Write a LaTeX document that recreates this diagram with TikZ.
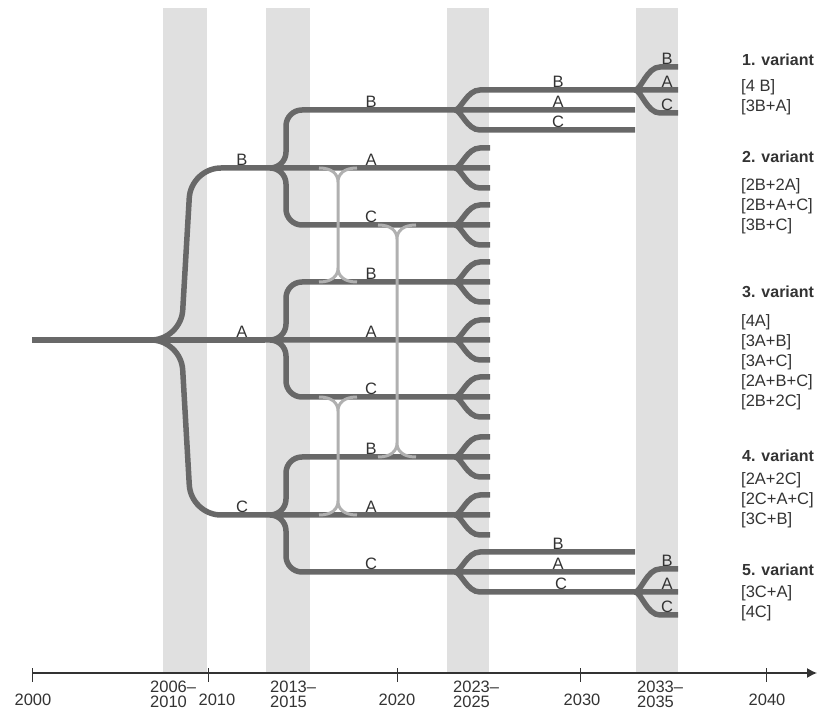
\documentclass[tikz,border=0pt]{standalone}
\usepackage{fontspec}
\setmainfont{Liberation Sans}
\usetikzlibrary{positioning,arrows.meta,calc}
\definecolor{trband}{HTML}{E0E0E0}
\definecolor{trdark}{HTML}{686868}
\definecolor{trlight}{HTML}{B0B0B0}
\definecolor{trink}{HTML}{333333}

\begin{document}
\begin{tikzpicture}[x=1pt,y=1pt,
  font=\fontsize{16.5}{20}\selectfont, text=trink,
  band/.style={fill=trband},
  tree/.style={draw=trdark,line width=5.5pt},
  link/.style={draw=trlight,line width=3pt},
  stem/.style={rounded corners=16pt,to path={-- ++(21,0) |- (\tikztotarget)}},
  fork/.style={to path={-- (\tikztotarget)
    (\tikztostart) .. controls +(6,0) and +(-13,0) .. ++(25,#1) -- ($(\tikztotarget)+(0,#1)$)
    (\tikztostart) .. controls +(6,0) and +(-13,0) .. ++(25,-#1) -- ($(\tikztotarget)+(0,-#1)$)}},
  fork/.default=20,
  brace/.style={to path={
    ($(\tikztostart)+(-19,0)$) .. controls +(13,0) and +(0,8) .. ($(\tikztostart)+(0,-14)$)
      .. controls +(0,8) and +(-13,0) .. ($(\tikztostart)+(19,0)$)
    ($(\tikztostart)+(0,-14)$) -- ($(\tikztotarget)+(0,14)$)
    ($(\tikztotarget)+(-19,0)$) .. controls +(13,0) and +(0,-8) .. ($(\tikztotarget)+(0,14)$)
      .. controls +(0,-8) and +(-13,0) .. ($(\tikztotarget)+(19,0)$)}},
  lbl/.style={anchor=south,inner sep=0pt,yshift=2.5pt},
  yr/.style={inner sep=0pt},
  yrtwo/.style={inner sep=0pt,anchor=west,align=left,font=\fontsize{16.5}{15}\selectfont},
  head/.style={anchor=west,inner sep=0pt,font=\fontsize{16}{20}\selectfont\bfseries},
  combo/.style={anchor=west,inner sep=0pt,align=left},
  axis/.style={draw=trink,line width=1.2pt},
  tick/.style={draw=trink,line width=1pt}]

  \useasboundingbox (0,0) rectangle (817,710);

  \fill[band] (163,37) rectangle (207,702);
  \fill[band] (266,37) rectangle (310,702);
  \fill[band] (447,37) rectangle (489,702);
  \fill[band] (636,37) rectangle (678,702);

  \coordinate (t2000) at (32,37);
  \coordinate (t2010) at (208,37);
  \coordinate (t2020) at (397,37);
  \coordinate (t2030) at (580,37);
  \coordinate (t2040) at (766,37);
  \coordinate (tend) at (817,37);
  \draw[axis,-{Latex[length=10pt,width=10pt]}] (t2000) -- (tend);
  \draw[tick] ([yshift=5pt]t2000) -- ([yshift=-9pt]t2000);
  \draw[tick] ([yshift=5pt]t2010) -- ([yshift=-9pt]t2010);
  \draw[tick] ([yshift=5pt]t2020) -- ([yshift=-9pt]t2020);
  \draw[tick] ([yshift=5pt]t2030) -- ([yshift=-9pt]t2030);
  \draw[tick] ([yshift=5pt]t2040) -- ([yshift=-9pt]t2040);

  \node[yr] (y2000) at (33,10) {2000};
  \node[yr] (y2010) at (217,10) {2010};
  \node[yr] (y2020) at (397,10) {2020};
  \node[yr] (y2030) at (582,10) {2030};
  \node[yr] (y2040) at (767,10) {2040};
  \node[yrtwo] (p2006) at (150,15.5) {2006--\\2010};
  \node[yrtwo] (p2013) at (270,15.5) {2013--\\2015};
  \node[yrtwo] (p2023) at (453,15.5) {2023--\\2025};
  \node[yrtwo] (p2033) at (637,15.5) {2033--\\2035};

  \coordinate (root) at (32,370);
  \coordinate (split) at (125,370);
  \coordinate (sb1) at (265,542);
  \coordinate (sa1) at (265,370);
  \coordinate (sc1) at (265,195);
  \coordinate (bb2) at (455,600);
  \coordinate (ba2) at (455,542);
  \coordinate (bc2) at (455,485);
  \coordinate (ab2) at (455,428);
  \coordinate (aa2) at (455,370);
  \coordinate (ac2) at (455,313);
  \coordinate (cb2) at (455,253);
  \coordinate (ca2) at (455,195);
  \coordinate (cc2) at (455,138);
  \coordinate (bb3) at (635,600);
  \coordinate (ba3) at (490,542);
  \coordinate (bc3) at (490,485);
  \coordinate (ab3) at (490,428);
  \coordinate (aa3) at (490,370);
  \coordinate (ac3) at (490,313);
  \coordinate (cb3) at (490,253);
  \coordinate (ca3) at (490,195);
  \coordinate (cc3) at (635,138);
  \coordinate (bbb3) at (635,620);
  \coordinate (bbb4) at (678,620);
  \coordinate (ccc3) at (635,118);
  \coordinate (ccc4) at (678,118);

  \draw[tree] (root) -- (sa1);
  \draw[tree,rounded corners=30pt] (split) -- (181,370) -- (191,542) -- (sb1);
  \draw[tree,rounded corners=30pt] (split) -- (181,370) -- (191,195) -- (sc1);
  \draw[tree] (sb1) to[stem] (bb2) (sb1) -- (ba2) (sb1) to[stem] (bc2);
  \draw[tree] (sa1) to[stem] (ab2) (sa1) -- (aa2) (sa1) to[stem] (ac2);
  \draw[tree] (sc1) to[stem] (cb2) (sc1) -- (ca2) (sc1) to[stem] (cc2);
  \draw[tree] (bb2) to[fork] (bb3);
  \draw[tree] (ba2) to[fork] (ba3);
  \draw[tree] (bc2) to[fork] (bc3);
  \draw[tree] (ab2) to[fork] (ab3);
  \draw[tree] (aa2) to[fork] (aa3);
  \draw[tree] (ac2) to[fork] (ac3);
  \draw[tree] (cb2) to[fork] (cb3);
  \draw[tree] (ca2) to[fork] (ca3);
  \draw[tree] (cc2) to[fork] (cc3);
  \draw[tree] (bbb3) to[fork=23] (bbb4);
  \draw[tree] (ccc3) to[fork=23] (ccc4);

  \coordinate (lk1a) at (338,542);
  \coordinate (lk1b) at (338,428);
  \coordinate (lk2a) at (397,485);
  \coordinate (lk2b) at (397,253);
  \coordinate (lk3a) at (338,313);
  \coordinate (lk3b) at (338,195);
  \draw[link] (lk1a) to[brace] (lk1b);
  \draw[link] (lk2a) to[brace] (lk2b);
  \draw[link] (lk3a) to[brace] (lk3b);

  \node[lbl] (b1) at (242,542) {B};
  \node[lbl] (a1) at (242,370) {A};
  \node[lbl] (c1) at (242,195) {C};
  \node[lbl] (bb) at (371,600) {B};
  \node[lbl] (ba) at (371,542) {A};
  \node[lbl] (bc) at (371,485) {C};
  \node[lbl] (ab) at (371,428) {B};
  \node[lbl] (aa) at (371,370) {A};
  \node[lbl] (ac) at (371,313) {C};
  \node[lbl] (cb) at (371,253) {B};
  \node[lbl] (ca) at (371,195) {A};
  \node[lbl] (cc) at (371,138) {C};
  \node[lbl] (bbb) at (558,620) {B};
  \node[lbl] (bba) at (558,600) {A};
  \node[lbl] (bbc) at (558,580) {C};
  \node[lbl] (ccb) at (558,158) {B};
  \node[lbl] (cca) at (558,138) {A};
  \node[lbl] (ccc) at (561,118) {C};
  \node[lbl] (bbbb) at (667,643) {B};
  \node[lbl] (bbba) at (667,620) {A};
  \node[lbl] (bbbc) at (667,597) {C};
  \node[lbl] (cccb) at (667,141) {B};
  \node[lbl] (ccca) at (667,118) {A};
  \node[lbl] (cccc) at (667,95) {C};

  \node[head] (v1) at (742,650) {1. variant};
  \node[combo] (k1) at (741,612.5) {[4 B]\\{}[3B+A]};
  \node[head] (v2) at (742,553) {2. variant};
  \node[combo] (k2) at (741,504) {[2B+2A]\\{}[2B+A+C]\\{}[3B+C]};
  \node[head] (v3) at (742,418) {3. variant};
  \node[combo] (k3) at (741,347.5) {[4A]\\{}[3A+B]\\{}[3A+C]\\{}[2A+B+C]\\{}[2B+2C]};
  \node[head] (v4) at (742,254) {4. variant};
  \node[combo] (k4) at (741,210) {[2A+2C]\\{}[2C+A+C]\\{}[3C+B]};
  \node[head] (v5) at (742,140) {5. variant};
  \node[combo] (k5) at (741,107) {[3C+A]\\{}[4C]};
\end{tikzpicture}
\end{document}
